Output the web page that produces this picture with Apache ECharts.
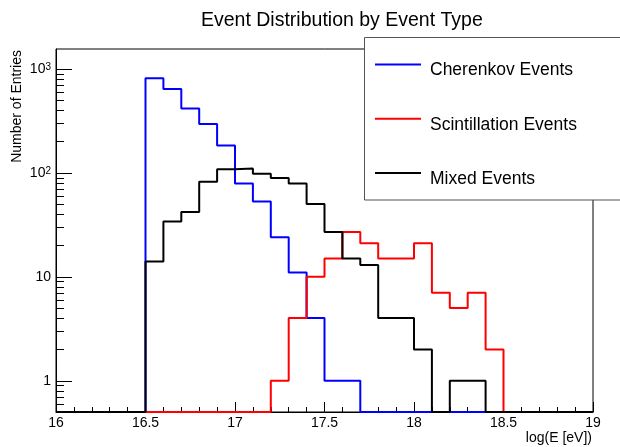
<!DOCTYPE html>
<html>
<head>
<meta charset="utf-8">
<script src="https://cdn.jsdelivr.net/npm/echarts@6/dist/echarts.min.js"></script>
<style>html,body{margin:0;padding:0;background:#fff}#c{width:620px;height:447px}</style>
</head>
<body>
<div id="c"></div>
<script>
const FONT = '"Liberation Sans", Arial, Helvetica, sans-serif';

// Bin low edges (width 0.1) of log(E [eV])
const binLowEdges = [16.0,16.1,16.2,16.3,16.4,16.5,16.6,16.7,16.8,16.9,
                     17.0,17.1,17.2,17.3,17.4,17.5,17.6,17.7,17.8,17.9,
                     18.0,18.1,18.2,18.3,18.4,18.5,18.6,18.7,18.8,18.9];
const xMin = 16, xMax = 19, xInterval = 0.5;

const seriesNames = ['Cherenkov Events', 'Scintillation Events', 'Mixed Events'];
const seriesColors = ['#0000ff', '#ff0000', '#000000'];

const cherenkov     = [0,0,0,0,0, 810,640,415,295,183, 79,53,24,11,4, 1,1,0,0,0, 0,0,0,0,0, 0,0,0,0,0];
const scintillation = [0,0,0,0,0, 0,0,0,0,0, 0,0,1,4,10, 15,27,21,15,15, 21,7,5,7,2, 0,0,0,0,0];
const mixed         = [0,0,0,0,0, 14,34,42,82,108, 110,98,89,79,50, 27,15,13,4,4, 2,0,1,1,0, 0,0,0,0,0];

const yMin = 0.5, yMax = 1550;
const yMajorTicks  = [1, 10, 100, 1000];
const yMajorLabels = ['1', '10', '10{s|2}', '10{s|3}'];
const yMinorTicks  = [0.6,0.7,0.8,0.9, 2,3,4,5,6,7,8,9, 20,30,40,50,60,70,80,90, 200,300,400,500,600,700,800,900];

const titleText = 'Event Distribution by Event Type';
const xTitle = 'log(E [eV])';
const yTitle = 'Number of Entries';

function histPoints(vals) {
  const pts = binLowEdges.map((e, i) => [e, vals[i] > 0 ? vals[i] : yMin]);
  pts.push([xMax, pts[pts.length - 1][1]]);
  return pts;
}

const allVals = [cherenkov, scintillation, mixed];
const histSeries = allVals.map((vals, k) => ({
  type: 'line',
  name: seriesNames[k],
  data: histPoints(vals),
  step: 'end',
  showSymbol: false,
  symbol: 'none',
  clip: false,
  silent: true,
  z: 3 + k,
  itemStyle: { color: seriesColors[k] },
  lineStyle: { color: seriesColors[k], width: 2 }
}));

const tickData = yMajorTicks.map((v, i) => [xMin, v, 1, i])
  .concat(yMinorTicks.map(v => [xMin, v, 0, -1]));

const tickSeries = {
  type: 'custom',
  name: 'yticks',
  coordinateSystem: 'cartesian2d',
  silent: true,
  clip: false,
  z: 8,
  data: tickData,
  encode: { x: 0, y: 1 },
  renderItem: function (params, api) {
    const p = api.coord([api.value(0), api.value(1)]);
    const major = api.value(2) === 1;
    const x = Math.round(p[0]);
    const y = Math.round(p[1]) + 0.5;
    const children = [{
      type: 'line',
      shape: { x1: x, y1: y, x2: x + (major ? 16 : 8), y2: y },
      style: { stroke: '#000', lineWidth: 1 }
    }];
    if (major) {
      children.push({
        type: 'text',
        x: x - 5,
        y: p[1],
        style: {
          text: yMajorLabels[api.value(3)],
          fontSize: 14,
          fontFamily: FONT,
          fill: '#000',
          align: 'right',
          verticalAlign: 'middle',
          rich: { s: { fontSize: 10, fontFamily: FONT, fill: '#000', verticalAlign: 'top', lineHeight: 10 } }
        }
      });
    }
    return { type: 'group', children: children };
  }
};

const legendTop = 64.5, legendStep = 54.2;
const legendGraphics = [{
  type: 'rect', z: 100,
  shape: { x: 364.5, y: 37.5, width: 270, height: 162.5 },
  style: { fill: '#fff', stroke: '#555', lineWidth: 1 }
}];
seriesNames.forEach((n, k) => {
  const ly = legendTop + k * legendStep;
  legendGraphics.push({
    type: 'line', z: 101,
    shape: { x1: 375, y1: ly, x2: 421, y2: ly },
    style: { stroke: seriesColors[k], lineWidth: 2 }
  });
  legendGraphics.push({
    type: 'text', z: 101, x: 430, y: ly + 6,
    style: { text: n, fontSize: 17.5, fontFamily: FONT, fill: '#000', align: 'left', verticalAlign: 'middle' }
  });
});

const chart = echarts.init(document.getElementById('c'), null, { renderer: 'canvas' });
chart.setOption({
  animation: false,
  backgroundColor: '#fff',
  title: {
    text: titleText, left: 201, top: 11, padding: 0,
    textStyle: { fontSize: 19.5, fontWeight: 'normal', color: '#000', fontFamily: FONT }
  },
  grid: {
    left: 56, right: 27, top: 49, bottom: 35,
    show: true, borderColor: '#000', borderWidth: 1, backgroundColor: 'transparent'
  },
  xAxis: {
    type: 'value', min: xMin, max: xMax, interval: xInterval,
    axisLine: { show: true, lineStyle: { color: '#000', width: 1 } },
    axisTick: { show: true, inside: true, length: 10, lineStyle: { color: '#000' } },
    minorTick: { show: true, splitNumber: 5, length: 5, lineStyle: { color: '#000' } },
    splitLine: { show: false },
    axisLabel: { color: '#000', fontSize: 14, fontFamily: FONT, margin: 4 }
  },
  yAxis: {
    type: 'log', logBase: 10, min: yMin, max: yMax,
    axisLine: { show: true, lineStyle: { color: '#000', width: 1 } },
    axisTick: { show: false },
    minorTick: { show: false },
    splitLine: { show: false },
    axisLabel: { show: false }
  },
  graphic: legendGraphics.concat([
    { type: 'text', x: 17.5, y: 50, rotation: Math.PI / 2, z: 50,
      style: { text: yTitle, fontSize: 14, fontFamily: FONT, fill: '#000', align: 'right', verticalAlign: 'middle' } },
    { type: 'text', x: 592, y: 438, z: 50,
      style: { text: xTitle, fontSize: 14, fontFamily: FONT, fill: '#000', align: 'right', verticalAlign: 'middle' } }
  ]),
  series: histSeries.concat([tickSeries])
});
</script>
</body>
</html>
